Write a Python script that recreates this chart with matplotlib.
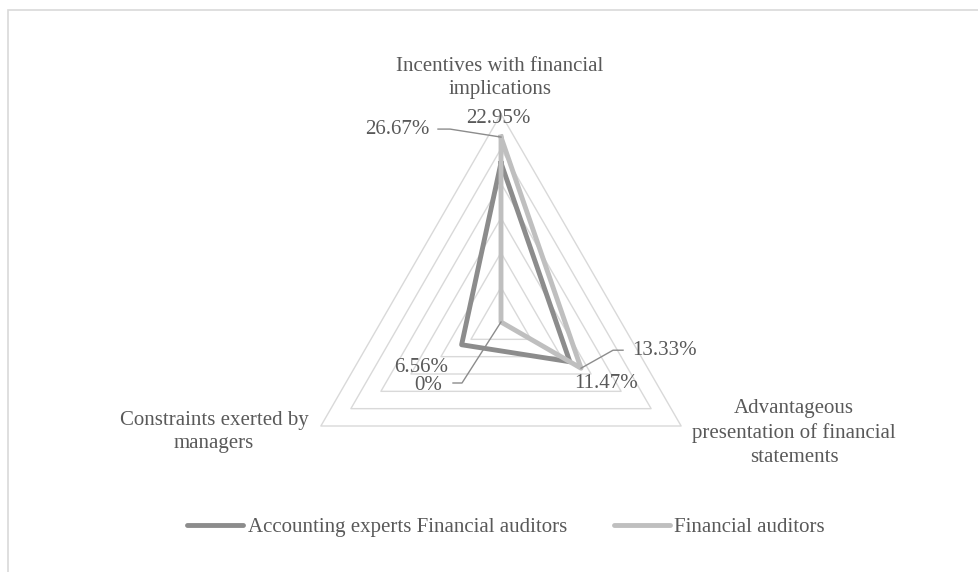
import matplotlib.pyplot as plt
import numpy as np
from matplotlib.patches import Rectangle

categories = ['Incentives with financial\nimplications',
              'Advantageous\npresentation of financial\nstatements',
              'Constraints exerted by\nmanagers']
series_names = ['Accounting experts Financial auditors', 'Financial auditors']
experts = [22.95, 11.47, 6.56]
auditors = [26.67, 13.33, 0.0]
rings = [5, 10, 15, 20, 25, 30]

W, H = 979, 572
cx, cy = 501, 322          # centre of the web, pixels from top-left
scale = 208 / 30           # pixels per percentage point

plt.rcParams['font.family'] = ['Liberation Serif', 'DejaVu Serif']
txt = '#595959'
fs = 15

fig = plt.figure(figsize=(W / 100, H / 100), dpi=100)
ax = fig.add_axes([0, 0, 1, 1])
ax.set_xlim(-cx / scale, (W - cx) / scale)
ax.set_ylim(-(H - cy) / scale, cy / scale)
ax.set_aspect('equal')
ax.axis('off')

# axes at 90, -30 and 210 degrees (clockwise from top)
ang = np.deg2rad([90, -30, 210])


def xy(vals):
    v = np.asarray(vals, dtype=float)
    x = v * np.cos(ang)
    y = v * np.sin(ang)
    return np.append(x, x[0]), np.append(y, y[0])


for r in rings:
    gx, gy = xy([r] * 3)
    ax.plot(gx, gy, color='#d9d9d9', lw=1.0, zorder=1)

for vals, col in [(experts, '#8c8c8c'), (auditors, '#bfbfbf')]:
    sx, sy = xy(vals)
    ax.plot(sx, sy, color=col, lw=3.5, solid_joinstyle='round', zorder=3)

# value labels: (series values, axis index, text offset px, ha, leader offsets px)
labels = [
    (auditors, 0, (-71, 8), 'right', [(-51, 8), (-63, 8)]),
    (experts, 0, (-3, 44), 'center', None),
    (auditors, 1, (51, 18), 'left', [(32, 18), (42, 18)]),
    (experts, 1, (36, -22), 'center', None),
    (experts, 2, (-40, -23), 'center', None),
    (auditors, 2, (-59, -63), 'right', [(-39, -61), (-48, -61)]),
]
for vals, i, (dx, dy), ha, leader in labels:
    px = vals[i] * np.cos(ang[i])
    py = vals[i] * np.sin(ang[i])
    s = '{:g}%'.format(vals[i]) if vals[i] == 0 else '{:.2f}%'.format(vals[i])
    ax.text(px + dx / scale, py + dy / scale, s, ha=ha, va='center',
            fontsize=fs, color=txt, zorder=5)
    if leader:
        lx = [px] + [px + a / scale for a, b in leader]
        ly = [py] + [py + b / scale for a, b in leader]
        ax.plot(lx, ly, color='#8c8c8c', lw=1.0, zorder=4)

# category names
cat_pos = [(500, 78), (794, 433), (214, 432)]
for name, (x, y) in zip(categories, cat_pos):
    fig.text(x / W, 1 - y / H, name, ha='center', va='center',
             multialignment='center', fontsize=fs, color=txt, linespacing=1.35)

h1, = ax.plot([], [], color='#8c8c8c', lw=3.5, solid_capstyle='round')
h2, = ax.plot([], [], color='#bfbfbf', lw=3.5, solid_capstyle='round')
leg = fig.legend([h1, h2], series_names, loc='center', ncol=2, frameon=False,
                 bbox_to_anchor=(506 / W, 1 - 527 / H), fontsize=fs,
                 handlelength=2.7, handletextpad=0.2, columnspacing=2.26)
for t in leg.get_texts():
    t.set_color(txt)

fig.patches.append(Rectangle((8 / W, -0.05), 1.1, 1 - 10 / H + 0.05,
                             transform=fig.transFigure, fill=False,
                             edgecolor='#d9d9d9', lw=1.2))

fig.savefig('out.png', dpi=100)
